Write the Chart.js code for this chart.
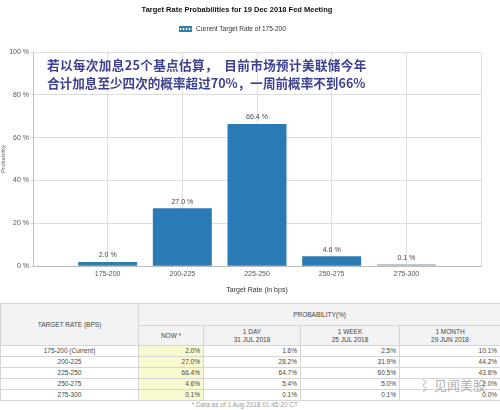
<!DOCTYPE html>
<html>
<head>
<meta charset="utf-8">
<script src="https://cdn.jsdelivr.net/npm/chart.js@4.4.1/dist/chart.umd.min.js"></script>
<style>
body{margin:0;width:500px;height:410px;background:#fff;font-family:"Liberation Sans",Arial,sans-serif;overflow:hidden;position:relative}
#wrap{position:absolute;left:0;top:0;width:500px;height:298px}
#title{position:absolute;top:5px;left:0;width:474px;text-align:center;font-weight:bold;font-size:7.5px;color:#111}
#legend{position:absolute;top:25px;left:179px;font-size:6.5px;color:#333;line-height:8px}
#legend i{display:inline-block;width:13px;height:6px;vertical-align:-1px;margin-right:4px;background-color:#2f7fa8;
  background-image:radial-gradient(circle,#fff 0.8px,transparent 1.2px);background-size:3px 6px}
#note{position:absolute;left:47px;top:56px;font-family:"Noto Sans CJK SC",sans-serif;font-weight:bold;font-size:12.6px;line-height:18px;color:#3d4190;white-space:pre}
#note span{letter-spacing:0.35px}
#tbl{position:absolute;left:0;top:303px;width:500px;border-collapse:collapse;table-layout:fixed;font-size:6.5px;color:#444}
#tbl td,#tbl th{border:1px solid #d6d6d6;padding:0 3px;height:10px;line-height:10px;font-weight:normal;white-space:nowrap}
#tbl th{background:#f3f3f3;text-align:center;line-height:8px}
#tbl td{text-align:right}
#tbl td.rate{text-align:center}
#tbl td.now{background:#fafad0}
#foot{position:absolute;top:401px;right:202px;font-size:6.5px;color:#999}
#wm{position:absolute;left:418px;top:375px;font-family:"Noto Sans CJK SC",sans-serif;font-size:13px;color:rgba(110,110,110,0.55)}
</style>
</head>
<body>
<div id="wrap"><canvas id="chart" width="500" height="298"></canvas></div>
<div id="title">Target Rate Probabilities for 19 Dec 2018 Fed Meeting</div>
<div id="legend"><i></i>Current Target Rate of 175-200</div>
<div id="note"><span>若以每次加息25个基点估算，  目前市场预计美联储今年</span>
合计加息至少四次的概率超过70%，一周前概率不到66%</div>
<table id="tbl"></table>
<div id="foot">* Data as of 1 Aug 2018 01:45:20 CT</div>
<div id="wm">⌇ 见闻美股</div>
<script>
// データ
const categories = ['175-200', '200-225', '225-250', '250-275', '275-300'];
const nowValues = [2.0, 27.0, 66.4, 4.6, 0.1];
const dayValues = [1.6, 28.2, 64.7, 5.4, 0.1];
const weekValues = [2.5, 31.9, 60.5, 5.0, 0.1];
const monthValues = [10.1, 44.2, 43.6, 2.0, 0.0];
const yTicks = [0, 20, 40, 60, 80, 100];
const periodHeads = [['NOW *'], ['1 DAY', '31 JUL 2018'], ['1 WEEK', '25 JUL 2018'], ['1 MONTH', '29 JUN 2018']];
const currentRate = '175-200';

// 現在のレンジ用のパターン
function makePattern() {
    let c = document.createElement('canvas');
    c.width = 3; c.height = 6;
    let g = c.getContext('2d');
    g.fillStyle = '#2f7fa8';
    g.fillRect(0, 0, 3, 6);
    g.fillStyle = '#ffffff';
    g.fillRect(1, 2, 1, 2);
    return g.createPattern(c, 'repeat');
}

const blue = '#2a7ab5';
let labels = [''].concat(categories, ['']);
let values = [null].concat(nowValues, [null]);
let colors = labels.map(function (l, i) {
    if (l === currentRate) return makePattern();
    if (values[i] !== null && values[i] < 1) return '#9fb8cb';
    return blue;
});

// 棒の上の数値
const valueLabels = {
    id: 'valueLabels',
    afterDatasetsDraw: function (chart) {
        let ctx = chart.ctx;
        ctx.save();
        ctx.font = '7px "Liberation Sans", Arial, sans-serif';
        ctx.fillStyle = '#444';
        ctx.textAlign = 'center';
        ctx.textBaseline = 'bottom';
        chart.getDatasetMeta(0).data.forEach(function (el, i) {
            let v = values[i];
            if (v === null) return;
            ctx.fillText(v.toFixed(1) + ' %', el.x, el.y - 3);
        });
        ctx.restore();
    }
};

let ctx = document.getElementById('chart').getContext('2d');
let chart = new Chart(ctx, {
    type: 'bar',
    data: {
        labels: labels,
        datasets: [{
            label: 'Current Target Rate of 175-200',
            data: values,
            backgroundColor: colors,
            barPercentage: 0.79,
            categoryPercentage: 1,
            minBarLength: 2
        }]
    },
    options: {
        responsive: false,
        animation: false,
        layout: { padding: { top: 52, left: 0, right: 19, bottom: 4 } },
        plugins: {
            legend: { display: false },
            title: { display: false },
            tooltip: { enabled: false }
        },
        scales: {
            x: {
                offset: false,
                grid: { offset: false, color: '#dedede', tickLength: 0 },
                border: { color: '#bbb' },
                ticks: { color: '#555', font: { size: 7 }, padding: 4, autoSkip: false, maxRotation: 0 },
                title: { display: true, text: 'Target Rate (in bps)', color: '#333', font: { size: 7 }, padding: { top: 3, bottom: 0 } }
            },
            y: {
                min: 0,
                max: 100,
                afterBuildTicks: function (s) { s.ticks = yTicks.map(function (v) { return { value: v }; }); },
                afterFit: function (s) { s.width = 33; },
                grid: { color: '#dedede', tickLength: 3 },
                border: { color: '#bbb' },
                ticks: { color: '#555', font: { size: 7 }, padding: 1, callback: function (v) { return v + ' %'; } },
                title: { display: true, text: 'Probability', color: '#666', font: { size: 6 }, padding: 0 }
            }
        }
    },
    plugins: [valueLabels]
});

// テーブル
let series = [nowValues, dayValues, weekValues, monthValues];
let html = '<colgroup><col style="width:138px"><col style="width:65px"><col style="width:97px"><col style="width:99px"><col style="width:101px"></colgroup>';
html += '<tr><th rowspan="2" style="height:40px">TARGET RATE (BPS)</th><th colspan="4" style="height:21px">PROBABILITY(%)</th></tr><tr>';
periodHeads.forEach(function (h) { html += '<th style="height:19px">' + h.join('<br>') + '</th>'; });
html += '</tr>';
categories.forEach(function (c, i) {
    html += '<tr><td class="rate">' + c + (c === currentRate ? ' (Current)' : '') + '</td>';
    series.forEach(function (s, j) {
        html += '<td' + (j === 0 ? ' class="now"' : '') + '>' + s[i].toFixed(1) + '%</td>';
    });
    html += '</tr>';
});
document.getElementById('tbl').innerHTML = html;
</script>
</body>
</html>
